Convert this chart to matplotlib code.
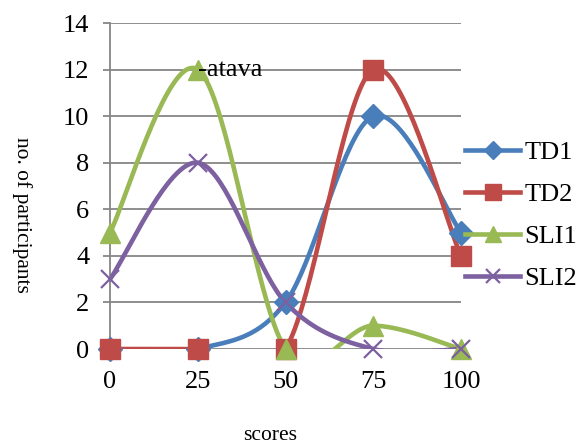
import numpy as np
import matplotlib

matplotlib.use("Agg")
import matplotlib.pyplot as plt
from matplotlib.lines import Line2D

scores = [0, 25, 50, 75, 100]
td1 = [0, 0, 2, 10, 5]
td2 = [0, 0, 0, 12, 4]
sli1 = [5, 12, 0, 1, 0]
sli2 = [3, 8, 2, 0, 0]

series = [
    ("TD1", td1, "#4A7EBB", "D", 12),
    ("TD2", td2, "#BE4B48", "s", 14.5),
    ("SLI1", sli1, "#98B954", "^", 14),
    ("SLI2", sli2, "#7D60A0", "x", 13),
]


def smooth(xs, ys, n=40):
    # Excel-style smoothed line: Catmull-Rom segments as cubic Bezier
    p = np.column_stack([xs, ys]).astype(float)
    p = np.vstack([p[0], p, p[-1]])
    t = np.linspace(0, 1, n)[:, None]
    out = []
    for i in range(1, len(p) - 2):
        p0, p1 = p[i], p[i + 1]
        c1 = p0 + (p[i + 1] - p[i - 1]) / 6
        c2 = p1 - (p[i + 2] - p[i]) / 6
        seg = ((1 - t) ** 3) * p0 + 3 * ((1 - t) ** 2) * t * c1 \
            + 3 * (1 - t) * t ** 2 * c2 + t ** 3 * p1
        out.append(seg)
    out = np.vstack(out)
    return out[:, 0], out[:, 1]


plt.rcParams["font.family"] = ["Liberation Serif", "DejaVu Serif"]

W, H = 582, 441
fig = plt.figure(figsize=(W / 100, H / 100), dpi=100)
ax = fig.add_axes([110 / W, 1 - 349 / H, 351 / W, 326 / H])

for name, ys, col, mk, ms in series:
    sx, sy = smooth(scores, ys)
    ax.plot(sx, sy, color=col, lw=3.3, solid_capstyle="round", zorder=3)
    if mk == "x":
        ax.plot(scores, ys, ls="none", marker=mk, ms=ms, mew=1.6,
                color=col, clip_on=False, zorder=4)
    else:
        ax.plot(scores, ys, ls="none", marker=mk, ms=ms, color=col,
                mec=col, clip_on=False, zorder=4)

ax.set_xlim(0, 100)
ax.set_ylim(0, 14)
ax.set_yticks(range(0, 15, 2))
ax.set_xticks(scores)
ax.grid(axis="y", color="#868686", lw=1.3, zorder=1)
ax.set_axisbelow(True)
for s in ["top", "right", "bottom"]:
    ax.spines[s].set_visible(False)
ax.spines["left"].set_color("#868686")
ax.spines["left"].set_linewidth(1.3)
ax.tick_params(axis="y", length=5, width=1.3, color="#868686", pad=10,
               labelsize=19)
ax.tick_params(axis="x", length=0, pad=16, labelsize=19)

ax.text(25, 12, "-atava", fontsize=19, ha="left", va="center", zorder=5)

fig.text(22 / W, 1 - 215 / H, "no. of participants", fontsize=15.5,
         rotation=270, ha="center", va="center")
fig.text(270 / W, 1.5 / H, "scores", fontsize=15.5, ha="center",
         va="baseline")

handles = [Line2D([], [], color=col, lw=3.3, marker=mk, ms=ms * 0.8,
                  mew=1.6 if mk == "x" else 1.0)
           for _, _, col, mk, ms in series]
labels = [s[0] for s in series]
fig.legend(handles, labels, loc="center left",
           bbox_to_anchor=(465 / W, 1 - 215.5 / H),
           frameon=False, fontsize=19, handlelength=2.1, handletextpad=0.15,
           labelspacing=0.7, borderaxespad=0, borderpad=0)

fig.savefig("out.png", dpi=100)
